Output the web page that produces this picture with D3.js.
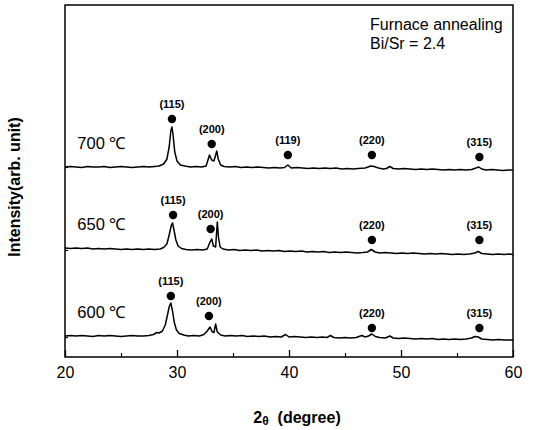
<!DOCTYPE html>
<html>
<head>
<meta charset="utf-8">
<style>
  body { margin: 0; background: #fff; }
  text { font-family: "Liberation Sans", Arial, sans-serif; fill: #000; }
</style>
</head>
<body>
<div class="xrd"></div>
<script src="https://d3js.org/d3.v7.min.js"></script>
<script>
// 2theta (deg) vs intensity (arb. unit)
const trace700 = [
  [20,190],[20.5,190.5],[21,190],[21.5,189.5],[22,190.5],[22.5,190],[23,190],[23.5,190.5],[24,189.5],[24.5,190],
  [25,190.5],[25.5,190],[26,189.5],[26.5,190],[27,190.5],[27.5,190],[28,190.5],[28.4,191],[28.8,193],[29.1,198],
  [29.3,210],[29.45,226],[29.55,230],[29.65,222],[29.8,205],[30.0,196],[30.3,192],[30.7,191],[31.2,190],[31.7,190.5],
  [32.2,190],[32.6,191],[32.9,202],[33.1,197],[33.3,196],[33.55,206],[33.68,198],[33.9,192],[34.2,190.5],[34.7,190],
  [35.2,190.5],[35.7,189.5],[36.2,190],[36.7,189.5],[37.2,190],[37.7,189.5],[38.2,189],[38.7,189.5],[39.2,189],[39.6,189.5],
  [39.9,192],[40.2,189],[40.7,189.5],[41.2,189],[41.7,188.5],[42.2,189],[42.7,188.5],[43.2,189],[43.7,188.5],[44.2,189],
  [44.7,188],[45.2,188.5],[45.7,188],[46.2,188.5],[46.8,189],[47.3,191],[47.6,190.5],[48.0,189],[48.4,188],[48.7,188.5],
  [49.0,190.5],[49.3,188.5],[49.8,188],[50.3,188.5],[50.8,188],[51.3,187.5],[51.8,188],[52.3,187.5],[52.8,188],[53.3,187.5],
  [53.8,187],[54.3,187.5],[54.8,187],[55.3,187.5],[55.8,187],[56.3,187.5],[56.7,189],[56.95,190],[57.2,188],[57.6,187],
  [58.1,187.5],[58.6,187],[59.1,186.5],[59.6,187],[60,187]
];
const trace650 = [
  [20,109],[20.5,108.5],[21,109],[21.5,108.5],[22,109],[22.5,108],[23,108.5],[23.5,108],[24,108.5],[24.5,108],
  [25,107.5],[25.5,108],[26,107.5],[26.5,108],[27,107.5],[27.5,108],[28,107.5],[28.5,108],[28.8,109.5],[29.1,113],
  [29.3,122],[29.5,132],[29.6,134],[29.75,126],[29.9,117],[30.1,111],[30.4,108.5],[30.8,107.5],[31.3,107],[31.8,107.5],
  [32.3,107],[32.7,108],[32.95,115],[33.1,118],[33.25,111],[33.45,110],[33.6,135],[33.7,120],[33.85,110],[34.1,108],
  [34.6,107],[35.1,107.5],[35.6,106.5],[36.1,107],[36.6,106.5],[37.1,107],[37.6,106],[38.1,106.5],[38.6,106],[39.1,106.5],
  [39.6,105.5],[40.1,106],[40.6,105.5],[41.1,106],[41.6,105],[42.1,105.5],[42.6,105],[43.1,105.5],[43.6,104.5],[44.1,105],
  [44.6,104.5],[45.1,105],[45.6,104.5],[46.1,104],[46.6,104.5],[47.0,105],[47.35,107.5],[47.7,105],[48.1,104],[48.6,104.5],
  [49.1,104],[49.6,103.5],[50.1,104],[50.6,103.5],[51.1,104],[51.6,103.5],[52.1,103],[52.6,103.5],[53.1,103],[53.6,103.5],
  [54.1,103],[54.6,102.5],[55.1,103],[55.6,102.5],[56.1,103],[56.6,104],[56.9,105.5],[57.2,103.5],[57.7,103],[58.2,102.5],
  [58.7,103],[59.2,102.5],[59.7,103],[60,102.5]
];
const trace600 = [
  [20,21],[20.5,21.5],[21,21],[21.5,21.5],[22,21],[22.5,20.5],[23,21.5],[23.5,21],[24,21.5],[24.5,21],
  [25,20.5],[25.5,21],[26,21.5],[26.5,21],[27,21],[27.5,21.5],[27.9,22.5],[28.2,24.5],[28.4,24],[28.7,26],
  [28.95,32],[29.15,42],[29.3,50],[29.45,54],[29.6,46],[29.75,35],[29.95,27],[30.2,23.5],[30.6,22],[31.0,21],
  [31.5,21.5],[32.0,21],[32.4,22.5],[32.7,26],[32.95,30],[33.15,25],[33.3,24.5],[33.45,33],[33.6,25],[33.9,22],
  [34.3,21],[34.8,21.5],[35.3,21],[35.8,21.5],[36.3,20.5],[36.8,21],[37.3,20.5],[37.8,21],[38.3,20],[38.8,20.5],
  [39.3,20],[39.7,22.5],[40.0,20],[40.5,20.5],[41,20],[41.5,19.5],[42,20],[42.5,19.5],[43.0,20],[43.4,19.5],
  [43.7,21.5],[44.0,19.5],[44.5,19],[45,19.5],[45.5,19],[46.0,19.5],[46.5,21.5],[46.8,20],[47.1,21],[47.4,23],
  [47.7,20.5],[48.1,19.5],[48.6,19],[49.0,21],[49.3,19],[49.8,18.5],[50.3,19],[50.8,18.5],[51.3,18],[51.8,18.5],
  [52.3,18],[52.8,18.5],[53.3,17.5],[53.8,18],[54.3,17.5],[54.8,18],[55.3,17.5],[55.8,18],[56.3,19],[56.6,20.5],
  [56.9,20],[57.2,18],[57.7,17.5],[58.2,17],[58.7,17.5],[59.2,17],[59.7,17],[60,17]
];

// peak markers: [hkl label, 2theta, intensity of dot]
const peaks700 = [["(115)",29.55,238],["(200)",33.1,213],["(119)",39.9,202],["(220)",47.4,202],["(315)",57.0,200]];
const peaks650 = [["(115)",29.65,142],["(200)",33.0,128],["(220)",47.4,117],["(315)",57.0,117]];
const peaks600 = [["(115)",29.45,61],["(200)",32.85,41],["(220)",47.4,29],["(315)",57.0,29]];

const seriesNames = ["700 \u2103", "650 \u2103", "600 \u2103"];
const xMajorTicks = [20, 30, 40, 50, 60];
const xMinorTicks = [25, 35, 45, 55];
const yMinorTicks = [190, 107, 20];
const noteLines = ["Furnace annealing", "Bi/Sr = 2.4"];

const width = 533, height = 430;
const margin = {left: 65, right: 20, top: 5, bottom: 73};

const svg = d3.select(".xrd").append("svg")
  .attr("width", width).attr("height", height);

const x = d3.scaleLinear().domain([20, 60]).range([margin.left, width - margin.right]);
const y = d3.scaleLinear().domain([0, 352]).range([height - margin.bottom, margin.top]);

// frame
svg.append("rect")
  .attr("x", x(20)).attr("y", y(352))
  .attr("width", x(60) - x(20)).attr("height", y(0) - y(352))
  .attr("fill", "none").attr("stroke", "#000").attr("stroke-width", 1.5);

// x axis, ticks pointing inward
const xAxis = svg.append("g").attr("transform", `translate(0,${y(0)})`)
  .call(d3.axisBottom(x).tickValues(xMajorTicks).tickSize(-7).tickPadding(10).tickFormat(d3.format("d")));
xAxis.select(".domain").remove();
xAxis.selectAll("line").attr("stroke-width", 1.3);
xAxis.selectAll("text").attr("font-size", 16).attr("font-family", "Liberation Sans, Arial, sans-serif");

const xMinor = svg.append("g").attr("transform", `translate(0,${y(0)})`)
  .call(d3.axisBottom(x).tickValues(xMinorTicks).tickSize(-4).tickFormat(""));
xMinor.select(".domain").remove();
xMinor.selectAll("line").attr("stroke-width", 1.2);

const yMinor = svg.append("g").attr("transform", `translate(${x(20)},0)`)
  .call(d3.axisLeft(y).tickValues(yMinorTicks).tickSize(-3).tickFormat(""));
yMinor.select(".domain").remove();
yMinor.selectAll("line").attr("stroke-width", 1.2);

// traces
const line = d3.line().x(d => x(d[0])).y(d => y(d[1]));
const traces = [trace700, trace650, trace600];
const peaks = [peaks700, peaks650, peaks600];

svg.append("g").selectAll("path")
  .data(traces)
  .join("path")
    .attr("d", line)
    .attr("fill", "none")
    .attr("stroke", "#000")
    .attr("stroke-width", 1.5)
    .attr("stroke-linejoin", "round");

// series labels
svg.append("g").selectAll("text")
  .data(traces)
  .join("text")
    .attr("x", x(21.1))
    .attr("y", d => y(d[0][1]) - 18)
    .attr("font-size", 16.5)
    .text((d, i) => seriesNames[i]);

// peak dots and hkl labels
peaks.forEach(list => {
  const g = svg.append("g");
  g.selectAll("circle").data(list).join("circle")
    .attr("cx", d => x(d[1])).attr("cy", d => y(d[2]))
    .attr("r", 4.2).attr("fill", "#000");
  g.selectAll("text").data(list).join("text")
    .attr("x", d => x(d[1])).attr("y", d => y(d[2]) - 11)
    .attr("text-anchor", "middle")
    .attr("font-size", 11)
    .attr("font-weight", "bold")
    .text(d => d[0]);
});

// note
svg.append("g").selectAll("text")
  .data(noteLines)
  .join("text")
    .attr("x", 370)
    .attr("y", (d, i) => 30 + i * 19)
    .attr("font-size", 16)
    .text(d => d);

// axis titles
const xt = svg.append("text")
  .attr("x", 297).attr("y", 423)
  .attr("text-anchor", "middle")
  .attr("font-size", 16).attr("font-weight", "bold");
xt.append("tspan").text("2");
xt.append("tspan").attr("font-size", 12).attr("dy", 2).text("\u03b8");
xt.append("tspan").attr("dy", -2).text("\u00a0 (degree)");

svg.append("text")
  .attr("transform", "translate(20,187) rotate(-90)")
  .attr("text-anchor", "middle")
  .attr("font-size", 16).attr("font-weight", "bold")
  .text("Intensity(arb. unit)");
</script>
</body>
</html>
